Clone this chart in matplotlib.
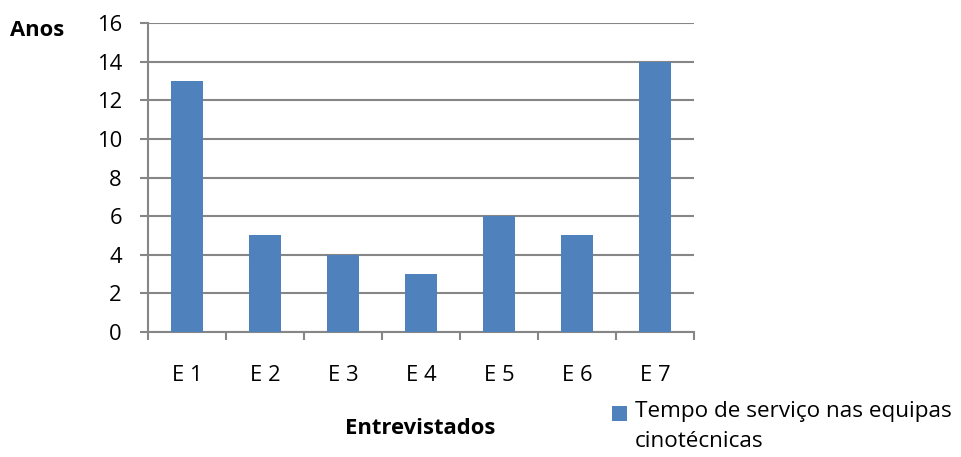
import matplotlib
matplotlib.use("Agg")
import matplotlib.pyplot as plt
import numpy as np
from matplotlib.patches import Rectangle

categories = ["E 1", "E 2", "E 3", "E 4", "E 5", "E 6", "E 7"]
values = [13, 5, 4, 3, 6, 5, 14]
yticks = [0, 2, 4, 6, 8, 10, 12, 14, 16]
series_name = "Tempo de serviço nas equipas\ncinotécnicas"

plt.rcParams['font.family'] = ['Open Sans', 'DejaVu Sans']
FS = 15.8
W, H = 961, 457
fig = plt.figure(figsize=(W/100, H/100), dpi=100)
ax = fig.add_axes([148/W, 1-332/H, (694-148)/W, (332-23)/H])

gc = "#868686"
x = np.arange(len(categories))
ax.bar(x, values, width=0.4, color="#4F81BD", zorder=3)
ax.set_xlim(-0.5, len(categories)-0.5)
ax.set_ylim(0, 16)
ax.set_yticks(yticks)
ax.yaxis.grid(True, color=gc, linewidth=1.5, zorder=0)
ax.set_xticks(x)
ax.set_xticklabels(categories, fontsize=FS)
ax.tick_params(axis='x', length=0, pad=23.5)
ax.set_xticks(np.arange(len(categories)+1)-0.5, minor=True)
ax.tick_params(axis='x', which='minor', length=5.8, width=1.5, color=gc, direction='out')
ax.tick_params(axis='y', length=5.8, width=1.5, color=gc, labelsize=FS, pad=13)
for s in ['top', 'right']:
    ax.spines[s].set_visible(False)
for s in ['left', 'bottom']:
    ax.spines[s].set_color(gc)
    ax.spines[s].set_linewidth(1.5)

fig.text(10/W, 1-31/H, "Anos", fontsize=FS, fontweight='bold', va='center', ha='left')
fig.text(420/W, 1-429/H, "Entrevistados", fontsize=FS, fontweight='bold', va='center', ha='center')

fig.patches.append(Rectangle((612/W, 1-421/H), 15/W, 15/H, transform=fig.transFigure,
                             facecolor="#4F81BD", edgecolor='none'))
fig.text(635/W, 1-401/H, series_name, fontsize=16.2, va='top', ha='left',
         linespacing=1.55, transform=fig.transFigure)

fig.savefig("out.png", dpi=100)
